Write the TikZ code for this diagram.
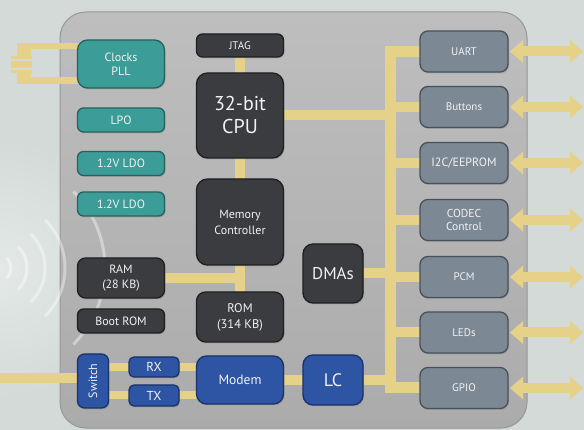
\documentclass[tikz,border=0pt]{standalone}
\usepackage{fontspec}
\usepackage{graphicx}
\setmainfont{PT Sans}
\usetikzlibrary{shadows,arrows.meta}
\pgfdeclarelayer{chip}
\pgfdeclarelayer{wires}
\pgfsetlayers{chip,wires,main}
\definecolor{bgc}{HTML}{D3DAD8}
\definecolor{glowc}{HTML}{E4E9E7}
\definecolor{chiptop}{HTML}{BEBEBE}
\definecolor{chipbot}{HTML}{ABABAB}
\definecolor{chipedge}{HTML}{979797}
\definecolor{wirec}{HTML}{E6D189}
\definecolor{tealf}{HTML}{3C9C97}
\definecolor{tealb}{HTML}{25625F}
\definecolor{darkf}{HTML}{3B3C40}
\definecolor{darkb}{HTML}{1E1F22}
\definecolor{bluef}{HTML}{2D55A3}
\definecolor{blueb}{HTML}{1A326A}
\definecolor{slatef}{HTML}{7C8894}
\definecolor{slateb}{HTML}{48515B}
\definecolor{txt}{HTML}{F2F2F2}
\begin{document}
\begin{tikzpicture}[x=1pt,y=-1pt,
  blk/.style={draw, line width=1.3pt, text=txt, inner sep=0pt, outer sep=0pt, align=center,
    rounded corners=6pt, font=\fontsize{12}{14.5}\selectfont,
    drop shadow={shadow xshift=1pt,shadow yshift=-1.5pt,opacity=0.35}},
  tealbox/.style={blk, fill=tealf, draw=tealb},
  darkbox/.style={blk, fill=darkf, draw=darkb},
  bluebox/.style={blk, fill=bluef, draw=blueb},
  slatebox/.style={blk, fill=slatef, draw=slateb, rounded corners=8pt, minimum width=88pt, minimum height=41pt},
  wire/.style={draw=wirec, line width=10pt},
  thinwire/.style={draw=wirec, line width=8pt},
  dbl/.style={draw=wirec, line width=10pt, {Triangle[length=13pt,width=22pt]}-{Triangle[length=13pt,width=22pt]}},
  wave/.style={draw=white, opacity=0.4, line width=3pt}
]
\useasboundingbox (0,0) rectangle (584,430);

\begin{pgfonlayer}{chip}
  \fill[bgc] (0,0) rectangle (584,430);
  \begin{scope}
    \clip (0,0) rectangle (584,430);
    \shade[inner color=glowc, outer color=bgc] (0,268) circle[radius=130];
  \end{scope}
  \shade[top color=chiptop, bottom color=chipbot, draw=chipedge, line width=1pt, rounded corners=26pt]
    (60,12) rectangle (527,428);
  % radio waves
  \foreach \r in {14,30,48,68,108}
    \draw[wave] (-3,268) ++(-45:\r) arc[start angle=-45, end angle=45, radius=\r];
\end{pgfonlayer}

% left column
\node[tealbox, minimum width=87pt, minimum height=48pt, rounded corners=10pt] (clk) at (121,64) {Clocks\\PLL};
\node[tealbox, minimum width=87pt, minimum height=24pt] (lpo) at (121,120) {LPO};
\node[tealbox, minimum width=87pt, minimum height=24pt] (ldoa) at (121,163.5) {1.2V LDO};
\node[tealbox, minimum width=87pt, minimum height=24pt] (ldob) at (121,204) {1.2V LDO};
\node[darkbox, minimum width=87pt, minimum height=40pt, rounded corners=8pt] (ram) at (121,278) {RAM\\(28 KB)};
\node[darkbox, minimum width=87pt, minimum height=24pt] (boot) at (121,321) {Boot ROM};

% middle column
\node[darkbox, minimum width=87pt, minimum height=23pt, font=\fontsize{11}{13}\selectfont] (jtag) at (240,45.5) {JTAG};
\node[darkbox, minimum width=87pt, minimum height=85pt, rounded corners=11pt, font=\fontsize{20}{23}\selectfont] (cpu) at (240,115.5) {32-bit\\CPU};
\node[darkbox, minimum width=87pt, minimum height=86pt, rounded corners=11pt, font=\fontsize{12}{16}\selectfont] (mc) at (240,222) {Memory\\Controller};
\node[darkbox, minimum width=87pt, minimum height=50pt, rounded corners=9pt, font=\fontsize{12.5}{16}\selectfont] (rom) at (240,317) {ROM\\(314 KB)};

% radio path
\node[bluebox, minimum width=31pt, minimum height=54pt, rounded corners=7pt] (sw) at (93,381) {\rotatebox{90}{Switch}};
\node[bluebox, minimum width=50pt, minimum height=20pt, rounded corners=5pt, font=\fontsize{13}{15}\selectfont] (rx) at (154,367) {RX};
\node[bluebox, minimum width=50pt, minimum height=21pt, rounded corners=5pt, font=\fontsize{13}{15}\selectfont] (tx) at (154,395.5) {TX};
\node[bluebox, minimum width=87pt, minimum height=48pt, rounded corners=10pt, font=\fontsize{13.5}{16}\selectfont] (modem) at (240,380) {Modem};
\node[bluebox, minimum width=60pt, minimum height=50pt, rounded corners=10pt, font=\fontsize{18}{20}\selectfont] (lc) at (333,380) {LC};
\node[darkbox, minimum width=60pt, minimum height=59pt, rounded corners=10pt, font=\fontsize{17}{20}\selectfont] (dma) at (333,273.5) {DMAs};

% peripherals
\node[slatebox, font=\fontsize{11}{13}\selectfont] (uart) at (464,51.5) {UART};
\node[slatebox, font=\fontsize{11}{13}\selectfont] (btn) at (464,107) {Buttons};
\node[slatebox] (i2c) at (464,163) {I2C/EEPROM};
\node[slatebox, font=\fontsize{11.5}{13}\selectfont] (codec) at (464,220) {CODEC\\Control};
\node[slatebox, font=\fontsize{11}{13}\selectfont] (pcm) at (464,277) {PCM};
\node[slatebox, font=\fontsize{11}{13}\selectfont] (led) at (464,332.5) {LEDs};
\node[slatebox, font=\fontsize{11}{13}\selectfont] (gpio) at (464,388) {GPIO};

\coordinate (bus) at (390,0);
\coordinate (ant) at (0,378);
\foreach \n/\y in {uart/51.5,btn/107,i2c/163,codec/220,pcm/277,led/332.5,gpio/388}
  \coordinate (e\n) at (583,\y);

\begin{pgfonlayer}{wires}
  % crystal
  \fill[wirec] (17,43) rectangle (80,49.5);
  \fill[wirec] (17,77.5) rectangle (80,84);
  \fill[wirec] (17,43) rectangle (31,56);
  \fill[wirec] (11,56) rectangle (32,59);
  \fill[wirec] (11,61.5) rectangle (32,68);
  \fill[wirec] (11,70.5) rectangle (32,73.5);
  \fill[wirec] (17,73.5) rectangle (31,84);
  % CPU/memory
  \draw[wire] (jtag.south) -- (cpu.north);
  \draw[wire] (cpu.south) -- (mc.north);
  \draw[wire] (mc.south) -- (rom.north);
  \draw[wire] (ram.east) -- (ram.east -| rom.north);
  % bus
  \draw[wire, line width=11pt] (uart.west) -| (bus |- gpio.west) -- (gpio.west);
  \foreach \n in {btn,i2c,codec,pcm,led}
    \draw[wire] (\n.west) -- (\n.west -| bus);
  \draw[wire] (cpu.east) -- (cpu.east -| bus);
  \draw[wire] (dma.east) -- (dma.east -| bus);
  \draw[wire] (lc.east) -- (lc.east -| bus);
  % radio
  \draw[wire] (ant) -- (ant -| sw.west);
  \draw[thinwire] (rx.west -| sw.east) -- (rx.west);
  \draw[thinwire] (tx.west -| sw.east) -- (tx.west);
  \draw[thinwire] (rx.east) -- (rx.east -| modem.west);
  \draw[thinwire] (tx.east) -- (tx.east -| modem.west);
  \draw[wire] (modem.east) -- (lc.west);
\end{pgfonlayer}

% external arrows
\foreach \n in {uart,btn,i2c,codec,pcm,led,gpio}
  \draw[dbl] ([xshift=2pt]\n.east) -- (e\n);
\end{tikzpicture}
\end{document}
